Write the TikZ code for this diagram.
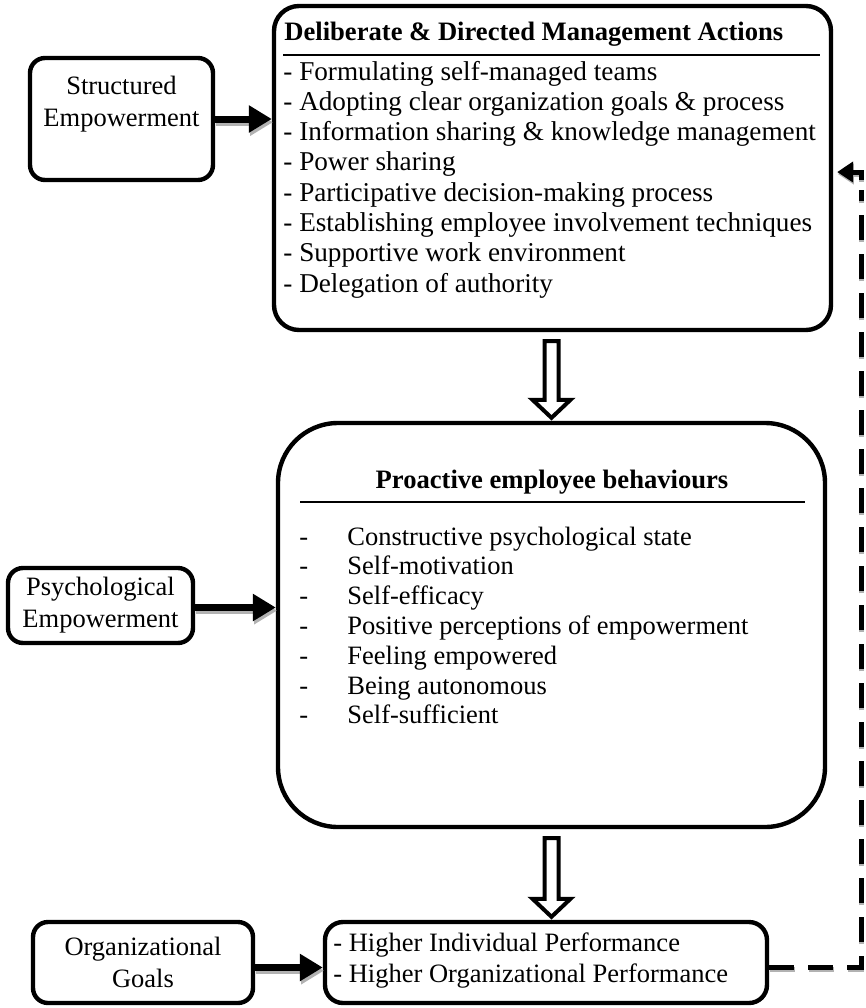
\documentclass[tikz,border=0pt]{standalone}
\usepackage{fontspec}
\setmainfont{Liberation Serif}
\usetikzlibrary{arrows.meta,calc}
\newcommand\fTop{\fontsize{13.6pt}{15pt}\selectfont}
\newcommand\fBody{\fontsize{13.25pt}{15pt}\selectfont}
\newcommand\fLbl{\fontsize{13.25pt}{16pt}\selectfont}
\newcommand\fTitle{\fontsize{13.3pt}{15pt}\selectfont\bfseries}
\begin{document}
\begin{tikzpicture}[x=0.5pt,y=-0.5pt,
  box/.style={draw,line width=2.2pt,rounded corners=#1,inner sep=0pt,fill=white},
  lbl/.style={align=center,font=\fLbl,inner sep=0pt},
  itm/.style={anchor=base west,inner sep=0pt},
  rule/.style={line width=1pt},
  tarrow/.style={line width=3.5pt,-{Triangle[length=11.5pt,width=13pt]}},
  tshadow/.style={tarrow,draw=gray!60,transform canvas={xshift=0.6pt,yshift=-1.6pt}},
  hol/.style={draw,line width=2pt,fill=white,line join=miter},
  fbdash/.style={line width=2.5pt,dash pattern=on 12.5pt off 7pt},
  fbhead/.style={line width=2.5pt,-{Triangle[length=8pt,width=10pt]},shorten >=2pt},
  fbshadow/.style={draw=gray!60,transform canvas={xshift=0.3pt,yshift=-1pt}}
]
\useasboundingbox (0,0) rectangle (866,1008);

% ---- top box
\node[box=12.5pt,minimum width=278.5pt,minimum height=162pt] (top) at (552.5,168) {};
\node[anchor=base west,inner sep=0pt,font=\fTitle] (topT) at (284,40) {Deliberate \& Directed Management Actions};
\draw[rule] (283,55) -- (820,55);
\foreach \t [count=\i] in {{Formulating self-managed teams},
  {Adopting clear organization goals \& process},
  {Information sharing \& knowledge management},
  {Power sharing},
  {Participative decision-making process},
  {Establishing employee involvement techniques},
  {Supportive work environment},
  {Delegation of authority}}
  \node[itm,font=\fTop] (ti\i) at (283,{80+30.3*(\i-1)}) {- \t};

% ---- middle box
\node[box=30pt,minimum width=273.5pt,minimum height=202pt] (mid) at (551.5,625) {};
\node[anchor=base,inner sep=0pt,font=\fTitle] (midT) at (552,488) {Proactive employee behaviours};
\draw[rule] (300,502) -- (805,502);
\foreach \t [count=\i] in {{Constructive psychological state},
  {Self-motivation},
  {Self-efficacy},
  {Positive perceptions of empowerment},
  {Feeling empowered},
  {Being autonomous},
  {Self-sufficient}}
  \node[itm,font=\fBody] (mi\i) at (299,{545+29.8*(\i-1)}) {\makebox[24pt][l]{-}\t};

% ---- bottom box
\node[box=9pt,minimum width=221pt,minimum height=40.5pt] (bot) at (546,962.5) {};
\node[itm,font=\fBody] (bo1) at (333,951) {- Higher Individual Performance};
\node[itm,font=\fBody] (bo2) at (333,982) {- Higher Organizational Performance};

% ---- side boxes
\node[box=7.5pt,minimum width=91.5pt,minimum height=61pt] (se) at (121.5,119) {};
\node[lbl] (seT) at (121.5,104) {Structured\\Empowerment};
\node[box=7.5pt,lbl,minimum width=92.5pt,minimum height=37.5pt] (pe) at (100.5,605.5) {Psychological\\Empowerment};
\node[box=7.5pt,lbl,minimum width=110pt,minimum height=40.5pt] (og) at (143,962.5) {Organizational\\Goals};

% ---- thick arrows with shadow
\coordinate (seA) at (se.east);
\coordinate (peA) at ([yshift=-1pt]pe.east);
\coordinate (ogA) at ([yshift=-2.5pt]og.east);
\draw[tshadow] (seA) -- (seA -| top.west);
\draw[tarrow] (seA) -- (seA -| top.west);
\draw[tshadow] (peA) -- (peA -| mid.west);
\draw[tarrow] (peA) -- (peA -| mid.west);
\draw[tshadow] (ogA) -- (ogA -| bot.west);
\draw[tarrow] (ogA) -- (ogA -| bot.west);

% ---- hollow down arrows
\newcommand\hollowdown[2]{\draw[hol] ($(#1)+(-7,0)$) -- ($(#2)+(-7,-18)$) -- ($(#2)+(-19,-18)$) -- (#2) -- ($(#2)+(19,-18)$) -- ($(#2)+(7,-18)$) -- ($(#1)+(7,0)$) -- cycle;}
\coordinate (a1s) at ([yshift=-4.5pt]mid.north |- top.south);
\coordinate (a1e) at ([yshift=1.5pt]mid.north);
\coordinate (a2s) at ([yshift=-4.5pt]mid.south);
\coordinate (a2e) at ([yshift=1.5pt]mid.south |- bot.north);
\hollowdown{a1s}{a1e}
\hollowdown{a2s}{a2e}

% ---- feedback dashed connector
\coordinate (fbS) at ([yshift=-2.5pt]bot.east);
\coordinate (fbX) at (861,172);
\coordinate (fbY) at (861,190);
\coordinate (fbZ) at (861,180);
\draw[fbdash,fbshadow] (fbS) -- (fbS -| fbX) -- (fbY);
\draw[fbdash] (fbS) -- (fbS -| fbX) -- (fbY);
\draw[fbhead,fbshadow] (fbZ) -- (fbX) -- (fbX -| top.east);
\draw[fbhead] (fbZ) -- (fbX) -- (fbX -| top.east);
\end{tikzpicture}
\end{document}
